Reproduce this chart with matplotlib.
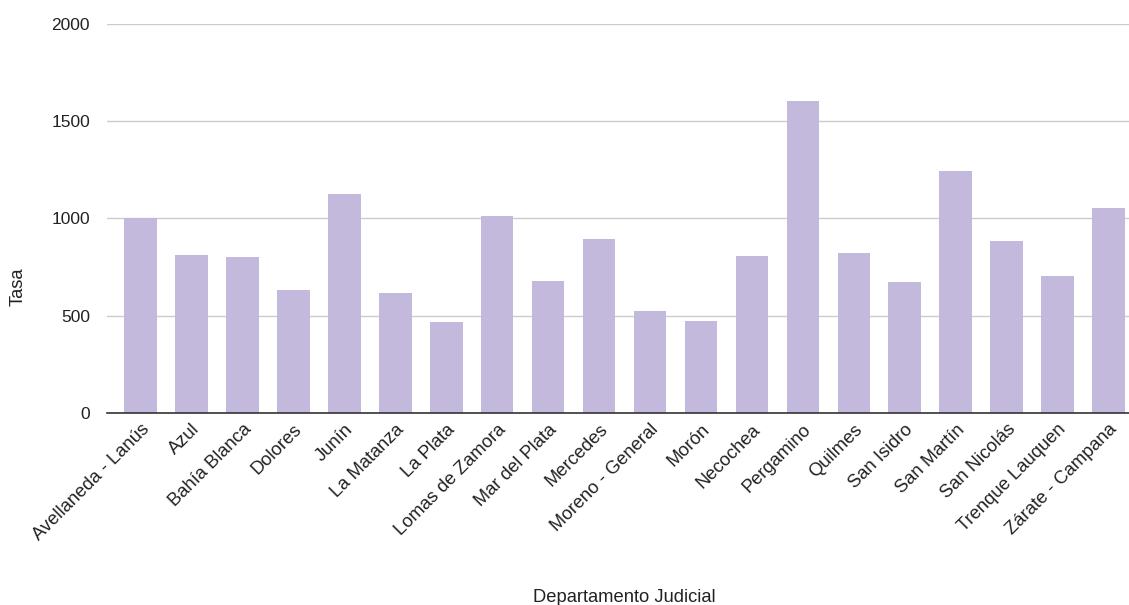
import matplotlib.pyplot as plt
import numpy as np

plt.rcParams['font.family'] = ['Liberation Sans', 'DejaVu Sans']

departamentos = ['Avellaneda - Lanús', 'Azul', 'Bahía Blanca', 'Dolores', 'Junín',
                 'La Matanza', 'La Plata', 'Lomas de Zamora', 'Mar del Plata',
                 'Mercedes', 'Moreno - General', 'Morón', 'Necochea', 'Pergamino',
                 'Quilmes', 'San Isidro', 'San Martín', 'San Nicolás',
                 'Trenque Lauquen', 'Zárate - Campana']
tasa = [1002, 810, 801, 633, 1125, 617, 465, 1010, 680,
        895, 521, 473, 808, 1606, 823, 670, 1246, 886, 703, 1054]
yticks = [0, 500, 1000, 1500, 2000]

fig = plt.figure(figsize=(11.29, 6.05), dpi=100)
ax = fig.add_axes([0.0945, 0.318, 0.9055, 0.642])

x = np.arange(len(departamentos))
ax.bar(x, tasa, width=0.64, color='#c3b9dc', zorder=2)

ax.set_ylim(0, 2000)
ax.set_xlim(-0.663, 19.4)
ax.set_yticks(yticks)
ax.set_xticks(x)
ax.set_xticklabels(departamentos, rotation=45, ha='right', rotation_mode='anchor')
ax.tick_params(axis='both', length=0, colors='#222222')
ax.tick_params(axis='y', pad=12, labelsize=12.5)
ax.tick_params(axis='x', pad=6, labelsize=13.2)
ax.grid(axis='y', color='#cccccc', linewidth=1, zorder=0)

for s in ['top', 'right', 'left']:
    ax.spines[s].set_visible(False)
ax.spines['bottom'].set_color('#333333')
ax.spines['bottom'].set_linewidth(1.2)
ax.spines['bottom'].set_zorder(3)

fig.text(18 / 1129, 1 - 287 / 605, 'Tasa', rotation=90, ha='center', va='center',
         fontsize=13.2, color='#222222')
fig.text(624 / 1129, 1 - 598 / 605, 'Departamento Judicial', ha='center', va='center',
         fontsize=13.2, color='#222222')

fig.savefig('out.png', dpi=100)
